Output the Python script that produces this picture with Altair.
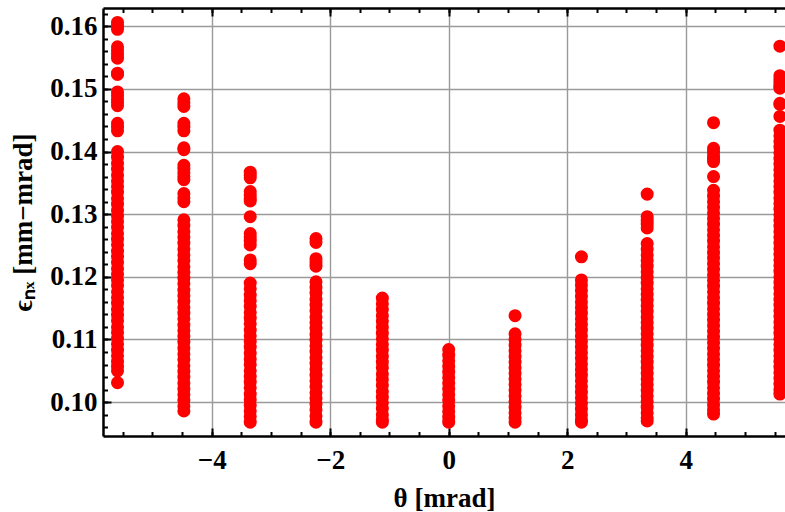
import altair as alt
import pandas as pd

# Beam angle positions (mrad)
theta_cols = [-5.59, -4.47, -3.35, -2.24, -1.12, 0.0, 1.12, 2.24, 3.35, 4.47, 5.59]

# Normalized emittance samples at each angle (mm-mrad)
eps_m559 = [0.1606, 0.1600, 0.1595, 0.1567, 0.1561, 0.1555, 0.1549, 0.1525, 0.1523,
            0.1495, 0.1489, 0.1483, 0.1478, 0.1473, 0.1445, 0.1439, 0.1433, 0.1400,
            0.1391, 0.1381, 0.1372, 0.1362, 0.1353, 0.1344, 0.1335, 0.1325, 0.1316,
            0.1306, 0.1297, 0.1288, 0.1279, 0.1269, 0.1260, 0.1251, 0.1241, 0.1232,
            0.1223, 0.1213, 0.1204, 0.1195, 0.1186, 0.1176, 0.1167, 0.1158, 0.1148,
            0.1139, 0.1130, 0.1120, 0.1111, 0.1102, 0.1093, 0.1083, 0.1074, 0.1065,
            0.1057, 0.1050, 0.1031]
eps_m447 = [0.1484, 0.1478, 0.1472, 0.1445, 0.1439, 0.1433, 0.1406, 0.1403, 0.1378,
            0.1372, 0.1366, 0.1360, 0.1355, 0.1333, 0.1326, 0.1320, 0.1291, 0.1282,
            0.1272, 0.1263, 0.1254, 0.1244, 0.1235, 0.1226, 0.1216, 0.1207, 0.1198,
            0.1189, 0.1179, 0.1170, 0.1161, 0.1151, 0.1142, 0.1133, 0.1123, 0.1114,
            0.1105, 0.1096, 0.1086, 0.1077, 0.1068, 0.1058, 0.1049, 0.1040, 0.1030,
            0.1021, 0.1012, 0.1003, 0.0994, 0.0986]
eps_m335 = [0.1367, 0.1362, 0.1358, 0.1336, 0.1330, 0.1325, 0.1321, 0.1296, 0.1269,
            0.1263, 0.1257, 0.1251, 0.1227, 0.1221, 0.1190, 0.1181, 0.1171, 0.1162,
            0.1153, 0.1143, 0.1134, 0.1125, 0.1115, 0.1106, 0.1097, 0.1088, 0.1078,
            0.1069, 0.1060, 0.1050, 0.1041, 0.1032, 0.1023, 0.1013, 0.1004, 0.0995,
            0.0986, 0.0977, 0.0968]
eps_m224 = [0.1261, 0.1255, 0.1229, 0.1223, 0.1217, 0.1192, 0.1183, 0.1174, 0.1164,
            0.1155, 0.1146, 0.1136, 0.1127, 0.1118, 0.1108, 0.1099, 0.1090, 0.1081,
            0.1071, 0.1062, 0.1053, 0.1043, 0.1034, 0.1025, 0.1015, 0.1006, 0.0997,
            0.0988, 0.0978, 0.0968]
eps_m112 = [0.1166, 0.1157, 0.1148, 0.1138, 0.1129, 0.1120, 0.1110, 0.1101, 0.1092,
            0.1083, 0.1073, 0.1064, 0.1055, 0.1045, 0.1036, 0.1027, 0.1017, 0.1008,
            0.0999, 0.0990, 0.0980, 0.0972, 0.0968]
eps_0 = [0.1084, 0.1075, 0.1066, 0.1057, 0.1048, 0.1039, 0.1030, 0.1021, 0.1012,
         0.1003, 0.0994, 0.0985, 0.0976, 0.0968]
eps_p112 = [0.1138, 0.1109, 0.1100, 0.1091, 0.1082, 0.1073, 0.1064, 0.1055, 0.1046,
            0.1037, 0.1028, 0.1019, 0.1010, 0.1001, 0.0992, 0.0983, 0.0975, 0.0968]
eps_p224 = [0.1232, 0.1195, 0.1187, 0.1178, 0.1169, 0.1160, 0.1151, 0.1142, 0.1133,
            0.1124, 0.1115, 0.1106, 0.1097, 0.1088, 0.1079, 0.1070, 0.1061, 0.1052,
            0.1043, 0.1034, 0.1025, 0.1016, 0.1007, 0.0998, 0.0989, 0.0980, 0.0972,
            0.0968]
eps_p335 = [0.1332, 0.1296, 0.1290, 0.1284, 0.1278, 0.1253, 0.1244, 0.1235, 0.1226,
            0.1217, 0.1208, 0.1199, 0.1190, 0.1181, 0.1172, 0.1163, 0.1154, 0.1145,
            0.1136, 0.1127, 0.1118, 0.1109, 0.1100, 0.1091, 0.1082, 0.1073, 0.1064,
            0.1055, 0.1046, 0.1037, 0.1028, 0.1019, 0.1010, 0.1001, 0.0992, 0.0983,
            0.0975, 0.0970]
eps_p447 = [0.1446, 0.1405, 0.1399, 0.1393, 0.1388, 0.1384, 0.1360, 0.1338, 0.1329,
            0.1320, 0.1311, 0.1302, 0.1293, 0.1284, 0.1275, 0.1266, 0.1257, 0.1248,
            0.1239, 0.1230, 0.1221, 0.1212, 0.1203, 0.1194, 0.1185, 0.1176, 0.1167,
            0.1158, 0.1149, 0.1140, 0.1131, 0.1122, 0.1113, 0.1104, 0.1095, 0.1086,
            0.1077, 0.1068, 0.1059, 0.1050, 0.1041, 0.1032, 0.1023, 0.1014, 0.1005,
            0.0996, 0.0988, 0.0981]
eps_p559 = [0.1568, 0.1521, 0.1515, 0.1509, 0.1504, 0.1501, 0.1477, 0.1475, 0.1456,
            0.1434, 0.1425, 0.1416, 0.1407, 0.1398, 0.1389, 0.1380, 0.1371, 0.1362,
            0.1353, 0.1344, 0.1335, 0.1326, 0.1317, 0.1308, 0.1299, 0.1290, 0.1281,
            0.1272, 0.1263, 0.1254, 0.1245, 0.1236, 0.1227, 0.1218, 0.1209, 0.1200,
            0.1191, 0.1182, 0.1173, 0.1164, 0.1155, 0.1146, 0.1137, 0.1128, 0.1119,
            0.1110, 0.1101, 0.1092, 0.1083, 0.1074, 0.1065, 0.1056, 0.1047, 0.1038,
            0.1029, 0.1020, 0.1013]

eps_cols = [eps_m559, eps_m447, eps_m335, eps_m224, eps_m112, eps_0,
            eps_p112, eps_p224, eps_p335, eps_p447, eps_p559]

# Axis tick positions
x_major = [-4, -2, 0, 2, 4]
x_minor = [-5.5, -5, -4.5, -4, -3.5, -3, -2.5, -2, -1.5, -1, -0.5, 0,
           0.5, 1, 1.5, 2, 2.5, 3, 3.5, 4, 4.5, 5, 5.5]
y_major = [0.10, 0.11, 0.12, 0.13, 0.14, 0.15, 0.16]
y_minor = [0.096, 0.098, 0.100, 0.102, 0.104, 0.106, 0.108, 0.110, 0.112, 0.114,
           0.116, 0.118, 0.120, 0.122, 0.124, 0.126, 0.128, 0.130, 0.132, 0.134,
           0.136, 0.138, 0.140, 0.142, 0.144, 0.146, 0.148, 0.150, 0.152, 0.154,
           0.156, 0.158, 0.160, 0.162]

rows = [(t, e) for t, col in zip(theta_cols, eps_cols) for e in col]
df = pd.DataFrame(rows, columns=["theta", "eps"])

FONT = "Liberation Serif"
FS = 27
xscale = alt.Scale(domain=[-5.835, 5.676], nice=False, zero=False)
yscale = alt.Scale(domain=[0.0946, 0.1629], nice=False, zero=False)

base = alt.Chart(df)

# Data points with labelled axes and grid
points = base.mark_circle(size=170, color="#ff0000", opacity=1).encode(
    x=alt.X("theta:Q", scale=xscale, axis=alt.Axis(
        orient="bottom", values=x_major, ticks=False, tickSize=0,
        domain=True, domainColor="black", domainWidth=2.5,
        grid=True, gridColor="#9a9a9a", gridWidth=1.4,
        labelFont=FONT, labelFontSize=FS, labelFontWeight="bold", labelColor="black",
        labelPadding=11, labelFlush=False,
        title="θ [mrad]", titleFont=FONT, titleFontSize=FS, titleFontWeight="bold",
        titleColor="black", titlePadding=12)),
    y=alt.Y("eps:Q", scale=yscale, axis=alt.Axis(
        orient="left", values=y_major, format=".2f", ticks=False, tickSize=0,
        domain=True, domainColor="black", domainWidth=2.5,
        grid=True, gridColor="#9a9a9a", gridWidth=1.4,
        labelFont=FONT, labelFontSize=FS, labelFontWeight="bold", labelColor="black",
        labelPadding=6, labelFlush=False,
        title="ϵₙₓ [mm−mrad]", titleFont=FONT, titleFontSize=FS, titleFontWeight="bold",
        titleColor="black", titlePadding=12)),
)


def tick_axis(orient, values, size):
    return alt.Axis(orient=orient, values=values, offset=-size, tickSize=size,
                    tickWidth=2, tickColor="black", domain=False, labels=False,
                    grid=False, title="")


# Inward-pointing frame ticks (major and minor) on bottom/left and top
ticks_major = base.mark_circle(opacity=0).encode(
    x=alt.X("theta:Q", scale=xscale, axis=tick_axis("bottom", x_major, 8)),
    y=alt.Y("eps:Q", scale=yscale, axis=tick_axis("left", y_major, 8)),
)
ticks_minor = base.mark_circle(opacity=0).encode(
    x=alt.X("theta:Q", scale=xscale, axis=tick_axis("bottom", x_minor, 4.5)),
    y=alt.Y("eps:Q", scale=yscale, axis=tick_axis("left", y_minor, 4.5)),
)
top_major = base.mark_circle(opacity=0).encode(
    x=alt.X("theta:Q", scale=xscale, axis=tick_axis("top", x_major, 8)),
    y=alt.Y("eps:Q", scale=yscale, axis=None),
)
top_minor = base.mark_circle(opacity=0).encode(
    x=alt.X("theta:Q", scale=xscale, axis=tick_axis("top", x_minor, 4.5)),
    y=alt.Y("eps:Q", scale=yscale, axis=None),
)
top_frame = base.mark_circle(opacity=0).encode(
    x=alt.X("theta:Q", scale=xscale, axis=alt.Axis(
        orient="top", values=x_major, ticks=False, tickSize=0, labels=False,
        domain=True, domainColor="black", domainWidth=2.5, grid=False, title="")),
    y=alt.Y("eps:Q", scale=yscale, axis=None),
)

chart = alt.layer(points, ticks_major, ticks_minor, top_major, top_minor, top_frame).resolve_axis(
    x="independent", y="independent"
).properties(
    width=682, height=428,
    autosize=alt.AutoSizeParams(type="none"),
    padding={"left": 103, "top": 8, "right": 0, "bottom": 76},
    background="white",
).configure_view(stroke=None)

chart.save("out.html", embed_options={"renderer": "svg", "actions": False})
